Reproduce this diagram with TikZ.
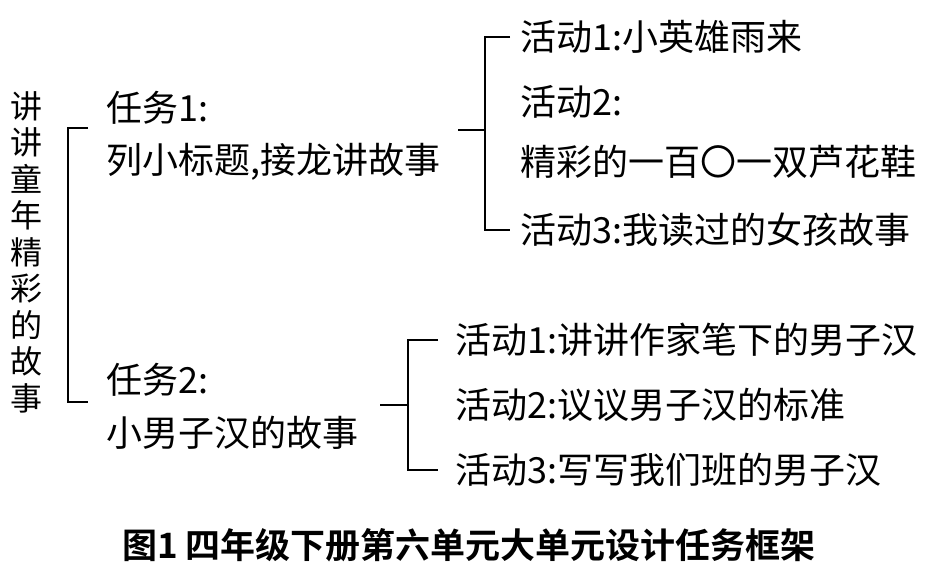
\documentclass[tikz,border=0pt]{standalone}
\usepackage{fontspec}
\setmainfont{Noto Sans CJK SC}
\newfontfamily\capfont{Noto Sans CJK SC Bold}
\begin{document}
\begin{tikzpicture}[x=1pt,y=-1pt,
  txt/.style={anchor=west,inner sep=0pt,font=\fontsize{36}{40}\selectfont},
  ln/.style={line width=1.6pt}]
\useasboundingbox (0,0) rectangle (942,571);
\node[inner sep=0pt,align=center,font=\fontsize{32}{36.5}\selectfont] (title) at (26,252) {讲\\讲\\童\\年\\精\\彩\\的\\故\\事};
\node[txt] (t1a) at (106,108) {任务1:};
\node[txt] (t1b) at (106,162) {列小标题,接龙讲故事};
\node[txt] (t2a) at (106,380) {任务2:};
\node[txt] (t2b) at (106,433) {小男子汉的故事};
\node[txt] (a11) at (520,37) {活动1:小英雄雨来};
\node[txt] (a12) at (520,102) {活动2:};
\node[txt] (a12b) at (520,162) {精彩的一百〇一双芦花鞋};
\node[txt] (a13) at (520,230) {活动3:我读过的女孩故事};
\node[txt] (a21) at (455,340) {活动1:讲讲作家笔下的男子汉};
\node[txt] (a22) at (455,405) {活动2:议议男子汉的标准};
\node[txt] (a23) at (455,470) {活动3:写写我们班的男子汉};
\node[inner sep=0pt,font=\capfont\fontsize{35}{40}\selectfont] (cap) at (469,545) {图1\ 四年级下册第六单元大单元设计任务框架};
% main bracket
\draw[ln] (88,128) -- (68,128) -- (68,402) -- (88,402);
% task1 bracket
\coordinate (j1) at (485,130);
\draw[ln] (458,130) -- (j1);
\draw[ln] (510,37) -- (485,37) -- (485,230) -- (510,230);
% task2 bracket
\draw[ln] (380,405) -- (408,405);
\draw[ln] (438,340) -- (408,340) -- (408,470) -- (438,470);
\end{tikzpicture}
\end{document}
